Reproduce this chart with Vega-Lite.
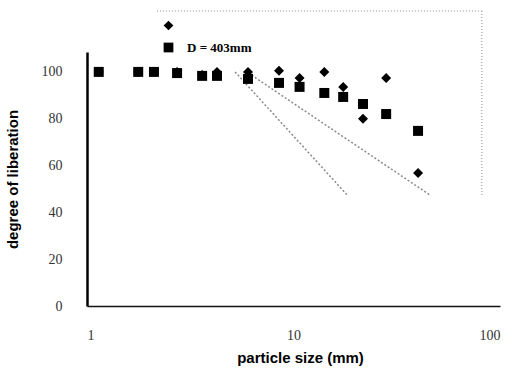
{
  "$schema": "https://vega.github.io/schema/vega-lite/v6.json",
  "width": 413,
  "height": 254,
  "autosize": {"type": "none"},
  "padding": {"left": 87, "top": 52, "right": 16, "bottom": 66},
  "background": "white",
  "config": {"view": {"stroke": null}},
  "datasets": {
    "points": [
      {"size": 1.14, "lib": 100, "series": "s1"},
      {"size": 1.77, "lib": 100, "series": "s1"},
      {"size": 2.11, "lib": 100, "series": "s1"},
      {"size": 2.73, "lib": 100, "series": "s1"},
      {"size": 3.61, "lib": 98.7, "series": "s1"},
      {"size": 4.26, "lib": 100, "series": "s1"},
      {"size": 6.02, "lib": 100, "series": "s1"},
      {"size": 8.51, "lib": 100.5, "series": "s1"},
      {"size": 10.7, "lib": 97.4, "series": "s1"},
      {"size": 14.1, "lib": 100, "series": "s1"},
      {"size": 17.4, "lib": 93.6, "series": "s1"},
      {"size": 21.7, "lib": 80, "series": "s1"},
      {"size": 28.1, "lib": 97.4, "series": "s1"},
      {"size": 40.1, "lib": 56.8, "series": "s1"},
      {"size": 1.14, "lib": 100, "series": "D = 403mm"},
      {"size": 1.77, "lib": 100, "series": "D = 403mm"},
      {"size": 2.11, "lib": 100, "series": "D = 403mm"},
      {"size": 2.73, "lib": 99.5, "series": "D = 403mm"},
      {"size": 3.61, "lib": 98.3, "series": "D = 403mm"},
      {"size": 4.26, "lib": 98.3, "series": "D = 403mm"},
      {"size": 6.02, "lib": 97, "series": "D = 403mm"},
      {"size": 8.51, "lib": 95.3, "series": "D = 403mm"},
      {"size": 10.7, "lib": 93.6, "series": "D = 403mm"},
      {"size": 14.1, "lib": 91, "series": "D = 403mm"},
      {"size": 17.4, "lib": 89.3, "series": "D = 403mm"},
      {"size": 21.7, "lib": 86.3, "series": "D = 403mm"},
      {"size": 28.1, "lib": 82, "series": "D = 403mm"},
      {"size": 40.1, "lib": 74.8, "series": "D = 403mm"}
    ],
    "curves": [
      {"size": 5.82, "lib": 100.5, "curve": "B"},
      {"size": 45.8, "lib": 47.4, "curve": "B"},
      {"size": 5.21, "lib": 100, "curve": "A"},
      {"size": 18.2, "lib": 47.4, "curve": "A"}
    ],
    "frameTop": [{"x1": 2.18, "x2": 81.6, "y": 126}],
    "frameRight": [{"x": 81.6, "y1": 47.4, "y2": 126}]
  },
  "layer": [
    {
      "data": {"name": "frameTop"},
      "mark": {"type": "rule", "color": "#b5b5b5", "strokeDash": [1, 2], "strokeWidth": 1.5},
      "encoding": {
        "x": {"field": "x1", "type": "quantitative", "scale": {"type": "log", "domain": [1, 100]}},
        "x2": {"field": "x2"},
        "y": {"field": "y", "type": "quantitative", "scale": {"domain": [0, 108.5], "nice": false}}
      }
    },
    {
      "data": {"name": "frameRight"},
      "mark": {"type": "rule", "color": "#b5b5b5", "strokeDash": [1, 2], "strokeWidth": 1.5},
      "encoding": {
        "x": {"field": "x", "type": "quantitative"},
        "y": {"field": "y1", "type": "quantitative"},
        "y2": {"field": "y2"}
      }
    },
    {
      "data": {"name": "curves"},
      "mark": {"type": "line", "color": "#8a8a8a", "strokeDash": [2, 2], "strokeWidth": 1.5},
      "encoding": {
        "x": {"field": "size", "type": "quantitative"},
        "y": {"field": "lib", "type": "quantitative"},
        "detail": {"field": "curve"}
      }
    },
    {
      "data": {"name": "points"},
      "mark": {"type": "point", "filled": true, "opacity": 1, "size": 100},
      "encoding": {
        "x": {
          "field": "size", "type": "quantitative",
          "scale": {"type": "log", "domain": [1, 100]},
          "axis": {
            "values": [1, 10, 100], "format": "~g", "grid": false, "ticks": false,
            "domainColor": "#111", "domainWidth": 1.5,
            "labelFont": "Liberation Serif", "labelFontSize": 14, "labelColor": "#333",
            "labelPadding": 22,
            "title": "particle size (mm)", "titleFont": "Liberation Sans", "titleFontSize": 15,
            "titleFontWeight": "bold", "titleColor": "#000", "titleX": 213, "titlePadding": 8
          }
        },
        "y": {
          "field": "lib", "type": "quantitative",
          "scale": {"domain": [0, 108.5], "nice": false},
          "axis": {
            "values": [0, 20, 40, 60, 80, 100], "grid": false, "ticks": false,
            "domainColor": "#000", "domainWidth": 2.5,
            "labelFont": "Liberation Serif", "labelFontSize": 14, "labelColor": "#333",
            "labelPadding": 25,
            "title": "degree of liberation", "titleFont": "Liberation Sans", "titleFontSize": 15,
            "titleFontWeight": "bold", "titleColor": "#000", "titleX": -67
          }
        },
        "shape": {
          "field": "series", "type": "nominal",
          "scale": {"domain": ["s1", "D = 403mm"], "range": ["diamond", "square"]},
          "legend": {
            "orient": "none", "legendX": 75, "legendY": -33, "title": null,
            "labelExpr": "datum.value == 's1' ? '' : datum.label",
            "labelFont": "Liberation Serif", "labelFontSize": 13, "labelFontWeight": "bold",
            "labelColor": "#000", "labelOffset": 12, "rowPadding": 5, "padding": 0,
            "symbolFillColor": "#000", "symbolStrokeColor": "#000", "symbolSize": 95
          }
        },
        "color": {"value": "#000"}
      }
    }
  ]
}
